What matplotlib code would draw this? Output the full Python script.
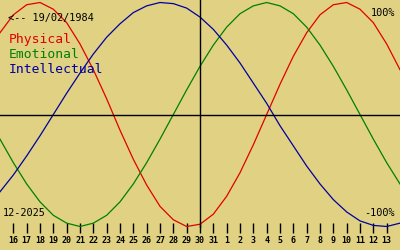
import matplotlib
matplotlib.use("Agg")
import matplotlib.pyplot as plt

# Biorhythm readings, one per day, from 15/12/2025 (day 0) to 14/01/2026 (day 30)
days = list(range(31))
physical = [0.73, 0.89, 0.98, 1.00, 0.94, 0.82, 0.63, 0.40, 0.14, -0.14,
            -0.40, -0.63, -0.82, -0.94, -1.00, -0.98, -0.89, -0.73, -0.52, -0.27,
            0.00, 0.27, 0.52, 0.73, 0.89, 0.98, 1.00, 0.94, 0.82, 0.63, 0.40]
emotional = [-0.22, -0.43, -0.62, -0.78, -0.90, -0.97, -1.00, -0.97, -0.90, -0.78,
             -0.62, -0.43, -0.22, 0.00, 0.22, 0.43, 0.62, 0.78, 0.90, 0.97,
             1.00, 0.97, 0.90, 0.78, 0.62, 0.43, 0.22, 0.00, -0.22, -0.43, -0.62]
intellectual = [-0.69, -0.54, -0.37, -0.19, 0.00, 0.19, 0.37, 0.54, 0.69, 0.81,
                0.91, 0.97, 1.00, 0.99, 0.95, 0.87, 0.76, 0.62, 0.46, 0.28,
                0.10, -0.10, -0.28, -0.46, -0.62, -0.76, -0.87, -0.95, -0.99, -1.00, -0.97]

tick_days = list(range(1, 30))
tick_labels = [str(n) for n in list(range(16, 32)) + list(range(1, 14))]
today = 15  # 30/12

bg = "#e0d282"
red, green, blue = "#e00000", "#008000", "#0000a0"
mono = "DejaVu Sans Mono"

fig = plt.figure(figsize=(4, 2.5), dpi=100, facecolor=bg)
ax = fig.add_axes([0, 22 / 250, 1, 228 / 250])
ax.set_facecolor(bg)

ax.plot(days, physical, color=red, lw=0.9)
ax.plot(days, emotional, color=green, lw=0.9)
ax.plot(days, intellectual, color=blue, lw=0.9)

ax.axhline(0, color="black", lw=1.0)
ax.axvline(today, color="black", lw=1.0)

ax.set_xlim(0, 30)
ax.set_ylim(-1 - 1.5 / 112, 1 + 2.5 / 112)
for s in ax.spines.values():
    s.set_visible(False)
ax.set_yticks([])
ax.set_xticks(tick_days)
ax.set_xticklabels(tick_labels, fontfamily=mono, fontsize=6, fontweight="bold")
ax.tick_params(axis="x", direction="inout", length=7, width=1, color="black", pad=2)


def px(x, y):
    return x / 400, 1 - y / 250


fig.text(*px(8, 21), "<-- 19/02/1984", fontfamily=mono, fontsize=7.4, color="black", va="baseline")
fig.text(*px(9, 43), "Physical", fontfamily=mono, fontsize=9.4, color=red, va="baseline")
fig.text(*px(9, 58), "Emotional", fontfamily=mono, fontsize=9.4, color=green, va="baseline")
fig.text(*px(9, 73), "Intellectual", fontfamily=mono, fontsize=9.4, color=blue, va="baseline")
fig.text(*px(395, 16), "100%", fontfamily=mono, fontsize=7.4, color="black", va="baseline", ha="right")
fig.text(*px(395, 216), "-100%", fontfamily=mono, fontsize=7.4, color="black", va="baseline", ha="right")
fig.text(*px(3, 216), "12-2025", fontfamily=mono, fontsize=7.4, color="black", va="baseline")

fig.savefig("out.png", dpi=100, facecolor=bg)
